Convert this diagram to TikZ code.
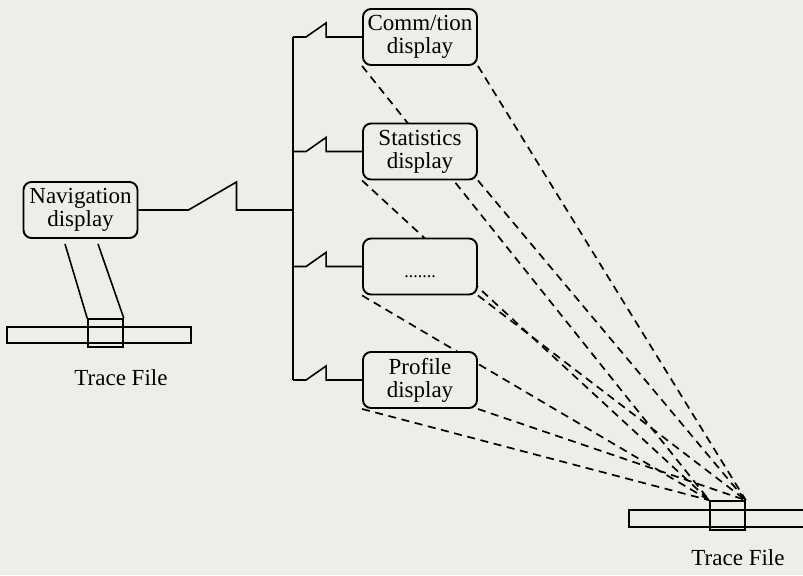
\documentclass[tikz,border=0pt]{standalone}
\usepackage{fontspec}
\setmainfont{Liberation Serif}
\usetikzlibrary{calc, positioning}
\definecolor{paper}{RGB}{237,237,233}
\pgfdeclarelayer{back}
\pgfdeclarelayer{mid}
\pgfsetlayers{back,mid,main}
\tikzset{
    viewBox/.style={rectangle, draw, fill=paper, rounded corners=4pt, line width=0.95pt, minimum width=57pt, minimum height=28pt, align=center, inner sep=1pt, font=\fontsize{11.5}{11.6}\selectfont},
    fileBar/.style={rectangle, draw, line width=0.8pt, minimum width=92pt, minimum height=8pt, inner sep=0pt},
    fileWin/.style={rectangle, draw, line width=0.8pt, minimum width=17.5pt, minimum height=14pt, inner sep=0pt},
    fileLabel/.style={inner sep=0pt, font=\fontsize{11.5}{11.6}\selectfont},
    busLine/.style={line width=0.8pt},
    zoomLine/.style={line width=0.8pt},
    traceLine/.style={line width=0.85pt, dash pattern=on 4pt off 2.8pt},
}
\newcommand{\drawBranch}[1]{
    \draw[busLine] (#1.west) -- ++(-36,0) -- ++(0,-14) -- ++(-20,14) -- (busTop |- #1.west);
}
\newcommand{\drawTrace}[1]{
    \begin{pgfonlayer}{mid}
    \draw[traceLine] (#1.south west) -- (winR.north west);
    \draw[traceLine] (#1.south east) -- (winR.north east);
    \end{pgfonlayer}
}

\begin{document}
\begin{tikzpicture}[x=0.5pt, y=-0.5pt]
    \useasboundingbox (0,0) rectangle (803,575);
    \begin{pgfonlayer}{back}
    \fill[paper] (0,0) rectangle (803,575);
    \end{pgfonlayer}

    % displays
    \node[viewBox] (nav) at (80.5,210) {Navigation\\display};
    \node[viewBox] (comm) at (420,37) {Comm/tion\\display};
    \node[viewBox] (stats) at (420,151.5) {Statistics\\display};
    \node[viewBox] (dots) at (420,266.5) {\smash{\raisebox{-5.5pt}{\fontsize{9}{9}\selectfont .......}}};
    \node[viewBox] (prof) at (420,380) {Profile\\display};

    % trace files
    \node[fileBar] (barL) at (99,335) {};
    \node[fileWin] (winL) at (105.5,333) {};
    \node[fileLabel] (lblL) at (121,378) {Trace File};
    \node[fileBar, minimum width=91pt, minimum height=8.5pt] (barR) at (720,518.5) {};
    \node[fileWin, minimum height=14.5pt] (winR) at (727.5,515.5) {};
    \node[fileLabel] (lblR) at (738,558) {Trace File};

    % bus
    \coordinate (busTop) at (293,37);
    \coordinate (busBot) at (293,380);
    \draw[busLine] (busTop) -- (busBot);
    \draw[busLine] (nav.east) -- ++(50,0) -- ++(48,-28) -- ++(0,28) -- (busTop |- nav.east);
    \drawBranch{comm}
    \drawBranch{stats}
    \drawBranch{dots}
    \drawBranch{prof}

    % zoom into the trace
    \draw[zoomLine] ($(nav.south)+(-15.5,5)$) -- (winL.north west);
    \draw[zoomLine] ($(nav.south)+(17.5,5)$) -- (winL.north east);
    \drawTrace{comm}
    \drawTrace{stats}
    \drawTrace{dots}
    \drawTrace{prof}
\end{tikzpicture}
\end{document}
